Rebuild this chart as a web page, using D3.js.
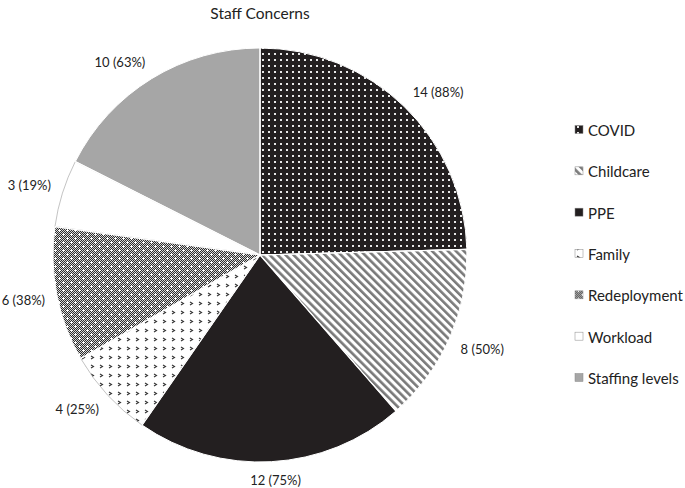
<!DOCTYPE html>
<html><head><meta charset="utf-8">
<script src="https://cdn.jsdelivr.net/npm/d3@7"></script>
<style>body{margin:0;background:#fff}svg{display:block}text{font-family:Lato,"Open Sans",sans-serif;fill:#222}</style>
</head><body><svg id="c" width="685" height="488"></svg>
<script>
const categories = ["COVID","Childcare","PPE","Family","Redeployment","Workload","Staffing levels"];
const values = [14,8,12,4,6,3,10];
const percents = [88,50,75,25,38,19,63];
const title = "Staff Concerns";

const svg = d3.select("#c");
const defs = svg.append("defs");
let p = defs.append("pattern").attr("id","p0").attr("patternUnits","userSpaceOnUse").attr("width",6).attr("height",6);
p.append("rect").attr("width",6).attr("height",6).attr("fill","#231f20");
p.append("rect").attr("x",2).attr("y",2).attr("width",2).attr("height",2).attr("fill","#e8e8e8");

p = defs.append("pattern").attr("id","p1").attr("patternUnits","userSpaceOnUse").attr("width",5.6).attr("height",10).attr("patternTransform","rotate(-45)");
p.append("rect").attr("width",5.6).attr("height",10).attr("fill","#fff");
p.append("rect").attr("width",2.6).attr("height",10).attr("fill","#7a7a7a");

p = defs.append("pattern").attr("id","p3").attr("patternUnits","userSpaceOnUse").attr("width",18).attr("height",18);
p.append("rect").attr("width",18).attr("height",18).attr("fill","#fff");
p.append("path").attr("d","M2,2 L4.5,3.5 L2,5 M11,11 L13.5,12.5 L11,14").attr("stroke","#333").attr("stroke-width",1.1).attr("fill","none");
p.append("path").attr("d","M11,2 L13.5,3.5 L11,5 M2,11 L4.5,12.5 L2,14").attr("stroke","#333").attr("stroke-width",1.1).attr("fill","none").attr("transform","translate(0,0)");

p = defs.append("pattern").attr("id","p4").attr("patternUnits","userSpaceOnUse").attr("width",8).attr("height",8);
p.append("rect").attr("width",8).attr("height",8).attr("fill","#d4d4d4");
for (let i=0;i<8;i++) for (let j=0;j<8;j++) if ((i+j)%2===0) p.append("rect").attr("x",i).attr("y",j).attr("width",1).attr("height",1).attr("fill","#2e2e2e");
p.append("rect").attr("x",3).attr("y",2).attr("width",1).attr("height",3).attr("fill","#fff");
p.append("rect").attr("x",2).attr("y",3).attr("width",3).attr("height",1).attr("fill","#fff");
p.append("rect").attr("x",7).attr("y",6).attr("width",1).attr("height",3).attr("fill","#fff");
p.append("rect").attr("x",6).attr("y",7).attr("width",3).attr("height",1).attr("fill","#fff");
p.append("rect").attr("x",-1).attr("y",7).attr("width",2).attr("height",1).attr("fill","#fff");
p.append("rect").attr("x",7).attr("y",-1).attr("width",1).attr("height",2).attr("fill","#fff");

const fills = ["url(#p0)","url(#p1)","#231f20","url(#p3)","url(#p4)","#ffffff","#a6a6a6"];

const cx = 260, cy = 255, r = 207;
svg.append("text").attr("x",cx).attr("y",19).attr("text-anchor","middle").attr("font-size",15.5).text(title);

const data = categories.map((c,i)=>({c, v:values[i], pct:percents[i], i}));
const pie = d3.pie().value(d=>d.v).sort(null);
const arcs = pie(data);
const arc = d3.arc().innerRadius(0).outerRadius(r);
const g = svg.append("g").attr("transform",`translate(${cx},${cy})`);
g.selectAll("path.s").data(arcs).join("path").attr("class","s")
  .attr("d",arc).attr("fill",d=>fills[d.data.i])
  .attr("stroke",d=>(d.data.i===3||d.data.i===5)?"#9a9a9a":"#fff").attr("stroke-width",d=>(d.data.i===3||d.data.i===5)?0.6:1);
g.selectAll("path.sep").data(arcs).join("path").attr("class","sep")
  .attr("d",d=>{const a=d.startAngle;return `M0,0L${r*Math.sin(a)},${-r*Math.cos(a)}`;})
  .attr("stroke","#fff").attr("stroke-width",1.2);

const fs = 13;
const clamp = v => Math.max(-1, Math.min(1, v));
g.selectAll("text.l").data(arcs).join("text").attr("class","l")
  .attr("font-size",fs).attr("text-anchor","middle").attr("dominant-baseline","central")
  .text(d=>`${d.data.v} (${d.data.pct}%)`)
  .each(function(d){
    const w = this.getComputedTextLength(), h = fs*0.95;
    const a = (d.startAngle+d.endAngle)/2;
    const dx = Math.sin(a), dy = -Math.cos(a);
    const rr = r + 12;
    d3.select(this).attr("x", rr*dx + clamp(dx*2.5)*w/2).attr("y", rr*dy + clamp(dy*2.5)*h/2);
  });

const legend = svg.append("g");
const ly = d3.scalePoint().domain(categories).range([130,378]);
const li = legend.selectAll("g").data(data).join("g").attr("transform",d=>`translate(575,${ly(d.c)})`);
li.append("rect").attr("x",0).attr("y",-4.5).attr("width",8).attr("height",8).attr("fill",d=>fills[d.i]).attr("stroke","#888").attr("stroke-width",0.5);
li.append("text").attr("x",13).attr("y",0).attr("dominant-baseline","central").attr("font-size",15).text(d=>d.c);
</script></body></html>
